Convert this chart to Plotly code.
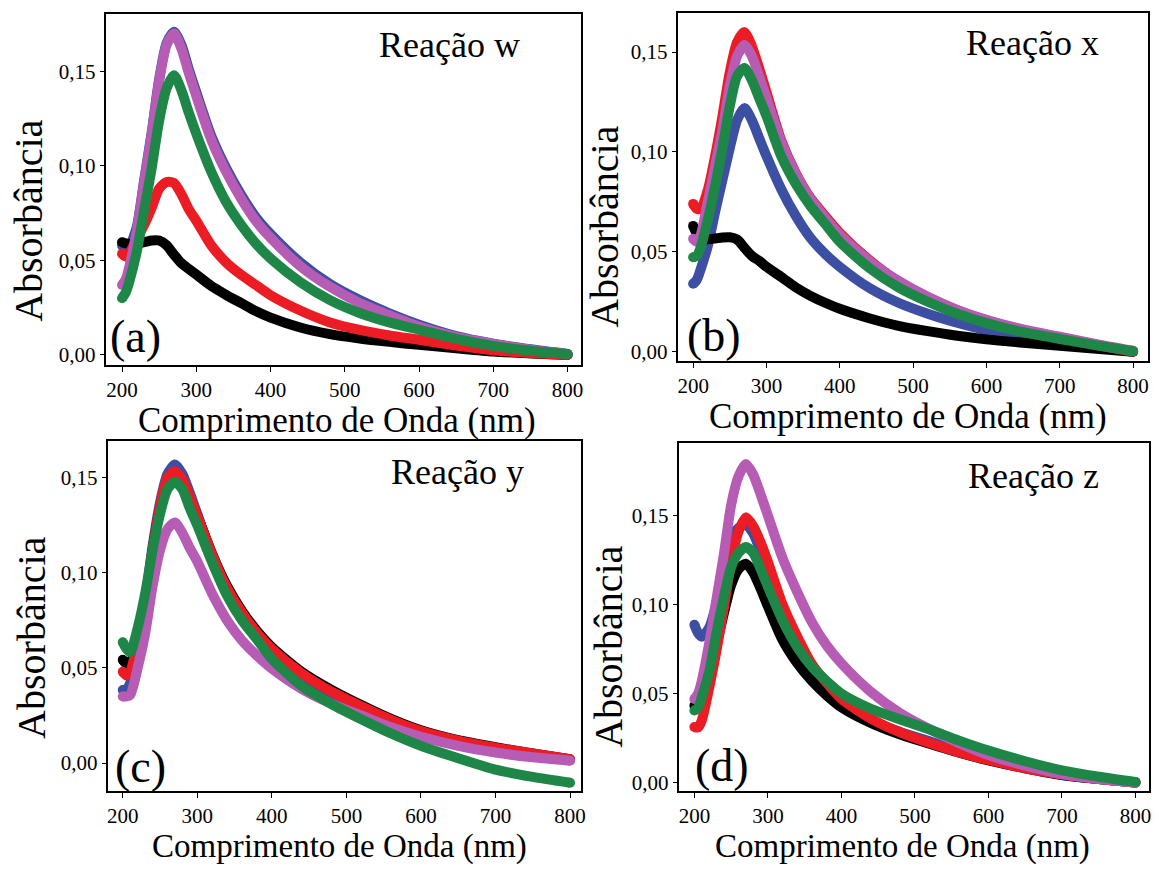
import plotly.graph_objects as go

# Wavelength grid (nm) shared by every spectrum
WAVELENGTH = [200, 205, 210, 220, 230, 240, 250, 260, 270, 280, 290, 300, 320, 340,
              360, 380, 400, 440, 480, 520, 560, 600, 650, 700, 750, 800]

# Reação w
W_BLACK = [0.0596, 0.0590, 0.0588, 0.0590, 0.0597, 0.0605, 0.0605, 0.0580, 0.0530, 0.0485,
           0.0455, 0.0425, 0.0365, 0.0318, 0.0275, 0.0232, 0.0197, 0.0145, 0.0110, 0.0087,
           0.0069, 0.0053, 0.0035, 0.0018, 0.0008, 0.0000]
W_RED = [0.0535, 0.0520, 0.0540, 0.0615, 0.0690, 0.0780, 0.0880, 0.0915, 0.0910, 0.0850,
         0.0770, 0.0710, 0.0580, 0.0490, 0.0425, 0.0370, 0.0316, 0.0235, 0.0172, 0.0132,
         0.0103, 0.0080, 0.0050, 0.0025, 0.0010, 0.0000]
W_BLUE = [0.0580, 0.0550, 0.0570, 0.0680, 0.0930, 0.1180, 0.1460, 0.1650, 0.1710, 0.1640,
          0.1510, 0.1390, 0.1160, 0.0990, 0.0850, 0.0730, 0.0640, 0.0490, 0.0375, 0.0290,
          0.0220, 0.0160, 0.0100, 0.0060, 0.0030, 0.0005]
W_MAGENTA = [0.0370, 0.0400, 0.0470, 0.0660, 0.0920, 0.1170, 0.1450, 0.1640, 0.1700, 0.1620,
             0.1490, 0.1370, 0.1140, 0.0970, 0.0830, 0.0710, 0.0620, 0.0470, 0.0360, 0.0275,
             0.0210, 0.0150, 0.0095, 0.0058, 0.0028, 0.0005]
W_GREEN = [0.0300, 0.0330, 0.0390, 0.0550, 0.0770, 0.0990, 0.1240, 0.1410, 0.1480, 0.1400,
           0.1280, 0.1170, 0.0970, 0.0810, 0.0690, 0.0590, 0.0510, 0.0385, 0.0290, 0.0222,
           0.0172, 0.0133, 0.0085, 0.0048, 0.0022, 0.0005]

# Reação x
X_BLACK = [0.0630, 0.0590, 0.0565, 0.0563, 0.0567, 0.0572, 0.0573, 0.0562, 0.0520, 0.0480,
           0.0455, 0.0425, 0.0375, 0.0322, 0.0280, 0.0245, 0.0215, 0.0168, 0.0130, 0.0103,
           0.0080, 0.0062, 0.0045, 0.0030, 0.0015, 0.0000]
X_RED = [0.0740, 0.0715, 0.0715, 0.0810, 0.0980, 0.1180, 0.1400, 0.1550, 0.1600, 0.1530,
         0.1420, 0.1300, 0.1060, 0.0895, 0.0770, 0.0680, 0.0595, 0.0460, 0.0352, 0.0272,
         0.0208, 0.0157, 0.0108, 0.0072, 0.0035, 0.0000]
X_BLUE = [0.0340, 0.0360, 0.0410, 0.0530, 0.0700, 0.0860, 0.1020, 0.1160, 0.1220, 0.1160,
          0.1070, 0.0980, 0.0815, 0.0680, 0.0570, 0.0490, 0.0425, 0.0320, 0.0245, 0.0190,
          0.0145, 0.0108, 0.0075, 0.0048, 0.0023, 0.0000]
X_MAGENTA = [0.0565, 0.0550, 0.0580, 0.0750, 0.0930, 0.1110, 0.1330, 0.1480, 0.1535, 0.1480,
             0.1380, 0.1270, 0.1050, 0.0890, 0.0765, 0.0670, 0.0585, 0.0455, 0.0355, 0.0275,
             0.0210, 0.0160, 0.0112, 0.0075, 0.0038, 0.0005]
X_GREEN = [0.0473, 0.0480, 0.0520, 0.0660, 0.0830, 0.1020, 0.1230, 0.1380, 0.1420, 0.1360,
           0.1270, 0.1180, 0.0980, 0.0840, 0.0730, 0.0640, 0.0550, 0.0420, 0.0322, 0.0250,
           0.0190, 0.0143, 0.0098, 0.0064, 0.0032, 0.0003]

# Reação y
Y_BLACK = [0.0543, 0.0520, 0.0530, 0.0640, 0.0830, 0.1120, 0.1340, 0.1480, 0.1517, 0.1480,
           0.1390, 0.1300, 0.1100, 0.0930, 0.0800, 0.0695, 0.0610, 0.0480, 0.0385, 0.0305,
           0.0232, 0.0172, 0.0120, 0.0083, 0.0050, 0.0020]
Y_RED = [0.0480, 0.0460, 0.0480, 0.0630, 0.0830, 0.1120, 0.1350, 0.1500, 0.1535, 0.1490,
         0.1400, 0.1300, 0.1095, 0.0920, 0.0790, 0.0685, 0.0600, 0.0472, 0.0375, 0.0298,
         0.0227, 0.0168, 0.0118, 0.0081, 0.0050, 0.0020]
Y_BLUE = [0.0384, 0.0390, 0.0420, 0.0620, 0.0850, 0.1140, 0.1370, 0.1520, 0.1570, 0.1520,
          0.1420, 0.1310, 0.1090, 0.0910, 0.0780, 0.0670, 0.0583, 0.0455, 0.0358, 0.0282,
          0.0210, 0.0155, 0.0108, 0.0074, 0.0045, 0.0015]
Y_MAGENTA = [0.0350, 0.0350, 0.0358, 0.0500, 0.0680, 0.0930, 0.1120, 0.1230, 0.1265, 0.1210,
             0.1130, 0.1060, 0.0890, 0.0750, 0.0645, 0.0565, 0.0497, 0.0390, 0.0312, 0.0250,
             0.0188, 0.0138, 0.0090, 0.0055, 0.0030, 0.0012]
Y_GREEN = [0.0635, 0.0600, 0.0583, 0.0710, 0.0890, 0.1120, 0.1310, 0.1440, 0.1480, 0.1440,
           0.1340, 0.1250, 0.1055, 0.0880, 0.0750, 0.0650, 0.0548, 0.0405, 0.0310, 0.0230,
           0.0155, 0.0090, 0.0025, -0.0035, -0.0073, -0.0104]

# Reação z
Z_BLACK = [0.0433, 0.0430, 0.0460, 0.0580, 0.0770, 0.0950, 0.1110, 0.1200, 0.1230, 0.1180,
           0.1090, 0.0990, 0.0800, 0.0670, 0.0570, 0.0490, 0.0423, 0.0335, 0.0270, 0.0218,
           0.0168, 0.0125, 0.0080, 0.0042, 0.0020, 0.0000]
Z_RED = [0.0312, 0.0310, 0.0349, 0.0530, 0.0740, 0.0980, 0.1240, 0.1410, 0.1490, 0.1440,
         0.1350, 0.1240, 0.1000, 0.0820, 0.0665, 0.0560, 0.0470, 0.0360, 0.0282, 0.0222,
         0.0170, 0.0127, 0.0080, 0.0045, 0.0020, 0.0000]
Z_BLUE = [0.0887, 0.0840, 0.0820, 0.0870, 0.1010, 0.1240, 0.1380, 0.1430, 0.1450, 0.1400,
          0.1300, 0.1190, 0.0950, 0.0790, 0.0650, 0.0550, 0.0460, 0.0350, 0.0285, 0.0232,
          0.0180, 0.0135, 0.0085, 0.0043, 0.0020, 0.0000]
Z_MAGENTA = [0.0470, 0.0500, 0.0570, 0.0780, 0.1030, 0.1280, 0.1560, 0.1720, 0.1790, 0.1730,
             0.1620, 0.1500, 0.1260, 0.1070, 0.0900, 0.0770, 0.0670, 0.0510, 0.0390, 0.0300,
             0.0222, 0.0155, 0.0095, 0.0048, 0.0020, 0.0000]
Z_GREEN = [0.0405, 0.0420, 0.0479, 0.0620, 0.0840, 0.1040, 0.1210, 0.1290, 0.1324, 0.1290,
           0.1200, 0.1100, 0.0910, 0.0760, 0.0650, 0.0570, 0.0500, 0.0415, 0.0355, 0.0298,
           0.0236, 0.0180, 0.0120, 0.0069, 0.0033, 0.0004]

REACTION_TITLES = ["Reação w", "Reação x", "Reação y", "Reação z"]
PANEL_LABELS = ["(a)", "(b)", "(c)", "(d)"]
X_TITLE = "Comprimento de Onda (nm)"
Y_TITLE = "Absorbância"

COLORS = {"blue": "#3D4FA3", "black": "#000000", "red": "#EC1C24",
          "magenta": "#B75CB4", "green": "#1E8747"}

PANELS = [
    {"blue": W_BLUE, "black": W_BLACK, "red": W_RED, "magenta": W_MAGENTA, "green": W_GREEN},
    {"blue": X_BLUE, "black": X_BLACK, "red": X_RED, "magenta": X_MAGENTA, "green": X_GREEN},
    {"blue": Y_BLUE, "black": Y_BLACK, "red": Y_RED, "magenta": Y_MAGENTA, "green": Y_GREEN},
    {"blue": Z_BLUE, "black": Z_BLACK, "red": Z_RED, "magenta": Z_MAGENTA, "green": Z_GREEN},
]
DRAW_ORDER = ["blue", "black", "red", "magenta", "green"]

W, H = 1159, 869
FONT = "Liberation Serif"

# Plot boxes in pixels: left, right, top, bottom, and axis ranges
BOXES = [
    dict(l=106, r=583, t=14, b=367, xr=[179, 818], yr=[-0.0055, 0.1804]),
    dict(l=681, r=1153, t=13, b=363, xr=[180, 820.4], yr=[-0.0048, 0.1696]),
    dict(l=108, r=583, t=443, b=795, xr=[180.8, 814.7], yr=[-0.0149, 0.1694]),
    dict(l=682, r=1154, t=445, b=795, xr=[179.7, 818.4], yr=[-0.0049, 0.1908]),
]
# Text placement in pixels: x title (centre, size), y title, reaction title, panel label
TEXT_POS = [
    dict(xt=(338, 422, 35), yt=(28, 222), rt=(378, 45), pl=(108, 338)),
    dict(xt=(912, 418, 35), yt=(607, 228), rt=(968, 43), pl=(688, 337)),
    dict(xt=(340, 850, 33), yt=(30, 641), rt=(390, 474), pl=(113, 770)),
    dict(xt=(906, 850, 33), yt=(610, 650), rt=(970, 478), pl=(696, 769)),
]


def px(x):
    return x / W


def py(y):
    return 1 - y / H


fig = go.Figure()
annotations = []
n = len(WAVELENGTH)
end_sizes = [10] + [0] * (n - 2) + [10]

for i, (panel, box, tp) in enumerate(zip(PANELS, BOXES, TEXT_POS)):
    sfx = "" if i == 0 else str(i + 1)
    for name in DRAW_ORDER:
        fig.add_trace(go.Scatter(
            x=WAVELENGTH, y=panel[name], mode="lines+markers",
            line=dict(color=COLORS[name], width=10, shape="spline", smoothing=0.7),
            marker=dict(color=COLORS[name], size=end_sizes, opacity=1, line=dict(width=0)),
            opacity=1, xaxis="x" + sfx, yaxis="y" + sfx, showlegend=False, hoverinfo="skip"))

    common = dict(showline=True, linecolor="black", linewidth=1.5, mirror=True,
                  ticks="outside", ticklen=5, tickwidth=1, tickcolor="black",
                  showgrid=False, zeroline=False,
                  tickfont=dict(family=FONT, size=21, color="black"))
    fig.update_layout(**{
        "xaxis" + sfx: dict(common, domain=[px(box["l"]), px(box["r"])], range=box["xr"],
                            tick0=200, dtick=100, anchor="y" + sfx),
        "yaxis" + sfx: dict(common, domain=[py(box["b"]), py(box["t"])], range=box["yr"],
                            tick0=0, dtick=0.05, tickformat=".2f", anchor="x" + sfx),
    })

    annotations += [
        dict(text=X_TITLE, x=px(tp["xt"][0]), y=py(tp["xt"][1]), xanchor="center",
             yanchor="middle", font=dict(size=tp["xt"][2])),
        dict(text=Y_TITLE, x=px(tp["yt"][0]), y=py(tp["yt"][1]), xanchor="center",
             yanchor="middle", textangle=-90, font=dict(size=40)),
        dict(text=REACTION_TITLES[i], x=px(tp["rt"][0]), y=py(tp["rt"][1]), xanchor="left",
             yanchor="middle", font=dict(size=36)),
        dict(text=PANEL_LABELS[i], x=px(tp["pl"][0]), y=py(tp["pl"][1]), xanchor="left",
             yanchor="middle", font=dict(size=46)),
    ]

for a in annotations:
    a.update(xref="paper", yref="paper", showarrow=False)
    a["font"].update(family=FONT, color="black")

fig.update_layout(width=W, height=H, margin=dict(l=0, r=0, t=0, b=0),
                  paper_bgcolor="white", plot_bgcolor="white", separators=",.",
                  annotations=annotations)

fig.write_html("out.html")
